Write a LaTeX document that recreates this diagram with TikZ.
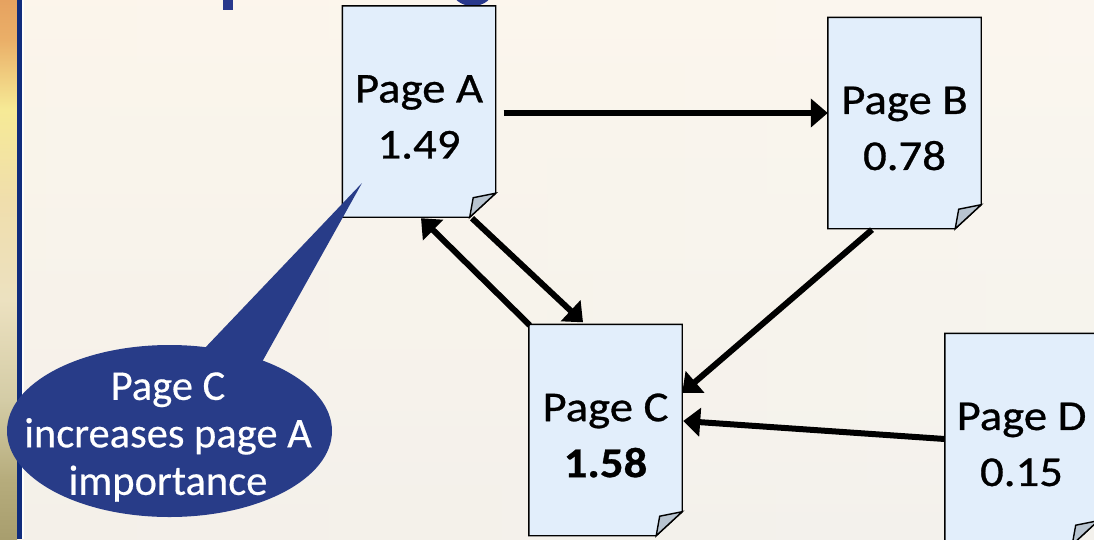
\documentclass[tikz,border=0pt]{standalone}
\usepackage{fontspec}
\setmainfont{Carlito}
\newfontfamily\pagefont[FakeStretch=1.1,FakeBold=0.7]{Carlito}
\newfontfamily\notefont[FakeBold=0.4]{Carlito}
\usetikzlibrary{arrows.meta,calc,shapes.geometric}

\definecolor{pagefill}{RGB}{226,238,251}
\definecolor{foldfill}{RGB}{184,196,208}
\definecolor{calloutblue}{RGB}{40,60,136}
\definecolor{stripblue}{RGB}{16,44,124}
\definecolor{titleblue}{RGB}{40,56,140}
\definecolor{creamA}{RGB}{252,244,232}
\definecolor{creamB}{RGB}{251,249,244}

% warm photo strip along the left edge (stops within 25bp..75bp)
\pgfdeclareverticalshading{stripshade}{100bp}{%
  color(0bp)=(rgb,255:red,168;green,158;blue,110);
  color(25bp)=(rgb,255:red,168;green,158;blue,110);
  color(30.5bp)=(rgb,255:red,182;green,172;blue,124);
  color(37.9bp)=(rgb,255:red,212;green,204;blue,166);
  color(47.2bp)=(rgb,255:red,236;green,225;blue,192);
  color(56.5bp)=(rgb,255:red,240;green,222;blue,172);
  color(64.8bp)=(rgb,255:red,246;green,234;blue,150);
  color(71.3bp)=(rgb,255:red,234;green,175;blue,104);
  color(75bp)=(rgb,255:red,230;green,162;blue,96);
  color(100bp)=(rgb,255:red,230;green,162;blue,96)}

% a page icon: box with a dog-eared lower right corner and its text
\newcommand\docpage[3]{%
  \node[pagebox] (#1) at (#2) {};
  \filldraw[pageline, fill=pagefill]
    (#1.north west) -- (#1.north east) -- ([yshift=24pt]#1.south east)
    -- ([xshift=-26pt]#1.south east) -- (#1.south west) -- cycle;
  \filldraw[pageline, fill=foldfill]
    ([yshift=24pt]#1.south east) -- ([xshift=-26pt]#1.south east)
    -- ([xshift=-22.5pt,yshift=19.5pt]#1.south east) -- cycle;
  \node[pagetext] (#1-text) at ([yshift=-5.5pt]#1.center) {#3};
}

\begin{document}
\begin{tikzpicture}[x=1pt,y=-1pt,
  pagebox/.style={rectangle, minimum width=153pt, minimum height=211pt, inner sep=0pt},
  pageline/.style={draw=black, line width=1.4pt, line join=miter},
  pagetext/.style={align=center, inner sep=0pt,
    font=\pagefont\fontsize{42.5}{56}\selectfont},
  link/.style={draw=black, line width=6pt, -{Triangle[length=17pt,width=28pt]}},
  note/.style={ellipse, fill=calloutblue, minimum width=325pt,
    minimum height=172pt, inner sep=0pt},
  notetext/.style={align=center, text=white, inner sep=0pt,
    font=\notefont\fontsize{42.5}{47.5}\selectfont}]

\useasboundingbox (0,0) rectangle (1094,539);
\clip (0,0) rectangle (1094,539);

% background
\shade[left color=creamA, right color=creamB] (0,0) rectangle (1094,539);
\shade[top color=creamA!60!creamB, bottom color=black!4!creamB, opacity=0.7]
  (22,0) rectangle (1094,539);
\shade[shading=stripshade] (0,0) rectangle (17,539);
\fill[stripblue] (17,0) rectangle (22,539);
\fill[white!85!creamA] (22,0) rectangle (24,539);

% descenders of the title running off the top edge
\fill[titleblue] (223,0) rectangle (233,10);
\fill[titleblue] (472.5,-10) ellipse (20.5 and 16);

% pages
\docpage{A}{419,111.5}{Page A\\1.49}
\docpage{B}{904.5,123}{Page B\\0.78}
\docpage{C}{605.5,430}{Page C\\\textbf{1.58}}
\docpage{D}{1021.5,439}{Page D\\0.15}

% links
\draw[link] ($(A.east)+(8,1.5)$) -- ($(B.west)+(0,-10)$);
\draw[link] ($(A.south)+(53,1)$) -- ($(C.north)+(-22.5,-2)$);
\draw[link] ($(C.north west)+(1,1)$) -- ($(A.south)+(2,1)$);
\draw[link] ($(B.south)+(-32.5,1)$) -- ($(C.east)+(0,-37)$);
\draw[link] (D.west) -- ($(C.east)+(1,-9)$);

% speech bubble
\node[note] (note) at (169.5,431) {};
\fill[calloutblue] (203,350) -- (362,183) -- (262,362) -- cycle;
\node[notetext] (note-text) at (168,437) {Page C\\increases page A\\importance};

\end{tikzpicture}
\end{document}
